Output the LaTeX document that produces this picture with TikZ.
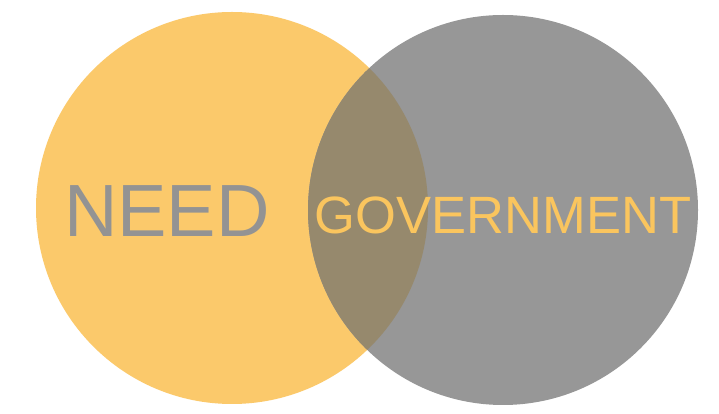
\documentclass[tikz,border=0pt]{standalone}
\usepackage{fontspec}
\setmainfont{Liberation Sans}
\definecolor{needorange}{HTML}{FBC96B}
\definecolor{govgray}{HTML}{979797}
\definecolor{overlapbrown}{HTML}{96896D}
\definecolor{needtext}{HTML}{939393}
\definecolor{govtext}{HTML}{FAC55E}
\tikzset{
  bigword/.style={anchor=base,inner sep=0pt},
}
\begin{document}
\begin{tikzpicture}[x=1pt,y=1pt]
 \fill[white] (0,0) rectangle (719,414);
 \useasboundingbox (0,0) rectangle (719,414);
 % the two sets
 \fill[needorange] (232,206) circle (196pt);
 \fill[govgray] (503,204) circle (195pt);
 \begin{scope}
  \clip (232,206) circle (196pt);
  \fill[overlapbrown] (503,204) circle (195pt);
 \end{scope}
 % labels
 \node[bigword,text=needtext,font=\fontsize{74}{74}\selectfont] (need) at (167,177) {NEED};
 \node[bigword,text=govtext,font=\fontsize{52.5}{52.5}\selectfont] (gov) at (503,180.5) {GOVERNMENT};
\end{tikzpicture}
\end{document}
